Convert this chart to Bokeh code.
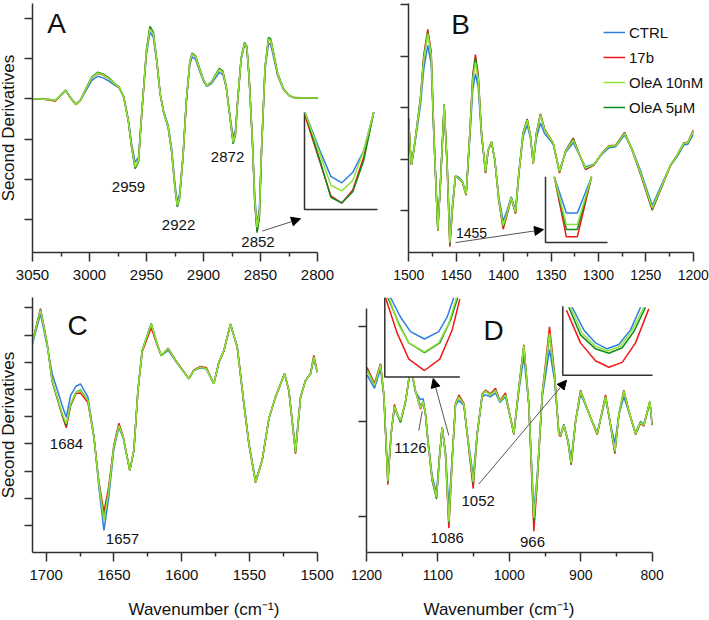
from bokeh.plotting import figure
from bokeh.models import (Range1d, FixedTicker, Label, Arrow, NormalHead, Legend, LegendItem,
                          Title, LinearAxis)
from bokeh.layouts import column, row
from bokeh.embed import file_html
from bokeh.resources import INLINE

# ---------------- series ----------------
SERIES = ["CTRL", "17b", "OleA 10nM", "OleA 5μM"]
SERIES_COLORS = ["#2f7fe0", "#f01818", "#93e23a", "#108a1c"]
DRAW_ORDER = [0, 1, 3, 2]

# ---------------- panel A (3050-2800 cm-1) ----------------
wnA = [3050, 3040, 3035, 3030, 3025, 3021, 3017, 3012, 3008, 3003,
       2998, 2993, 2988, 2983, 2978, 2974, 2970, 2966, 2963, 2960,
       2957, 2954, 2950, 2947, 2944, 2941, 2938, 2935, 2931, 2928,
       2925, 2923, 2921, 2918, 2915, 2912, 2910, 2907, 2903, 2900,
       2897, 2893, 2889, 2886, 2883, 2880, 2877, 2874, 2872, 2870,
       2867, 2864, 2862, 2860, 2857, 2855, 2853, 2851, 2849, 2846,
       2843, 2841, 2838, 2835, 2830, 2825, 2820, 2810, 2800]
A_CTRL = [0, -0.01, -0.02, -0.04, 0.09, 0.20, 0.04, -0.13, -0.04, 0.21,
          0.46, 0.56, 0.52, 0.44, 0.34, 0.27, 0.06, -0.50, -1.12, -1.58,
          -1.45, -0.27, 1.12, 1.66, 1.53, 0.90, 0.12, -0.30, -0.66, -1.22,
          -2.12, -2.57, -2.37, -1.40, -0.03, 0.85, 1.04, 0.99, 0.66, 0.43,
          0.31, 0.38, 0.54, 0.66, 0.60, 0.27, -0.37, -0.95, -0.78, -0.03,
          0.98, 1.35, 1.26, 0.53, -1.06, -2.45, -3.10, -2.76, -1.15, 0.74,
          1.38, 1.35, 0.97, 0.58, 0.24, 0.08, 0.02, 0.02, 0.02]
A_17B = [0, -0.01, -0.03, -0.06, 0.10, 0.21, 0.04, -0.15, -0.04, 0.25,
         0.52, 0.63, 0.59, 0.50, 0.37, 0.29, 0.04, -0.54, -1.21, -1.72,
         -1.54, -0.29, 1.20, 1.75, 1.62, 0.95, 0.12, -0.33, -0.71, -1.30,
         -2.22, -2.66, -2.46, -1.45, -0.04, 0.91, 1.12, 1.05, 0.70, 0.46,
         0.33, 0.41, 0.60, 0.73, 0.66, 0.29, -0.41, -1.09, -0.88, -0.04,
         1.00, 1.38, 1.29, 0.54, -1.14, -2.58, -3.30, -2.93, -1.23, 0.79,
         1.49, 1.45, 1.04, 0.62, 0.25, 0.08, 0.03, 0.02, 0.02]
A_OLEA10 = [0, -0.01, -0.02, -0.04, 0.10, 0.21, 0.04, -0.14, -0.04, 0.25,
            0.52, 0.64, 0.60, 0.50, 0.37, 0.29, 0.04, -0.54, -1.20, -1.70,
            -1.53, -0.29, 1.20, 1.74, 1.62, 0.95, 0.12, -0.33, -0.70, -1.29,
            -2.20, -2.65, -2.45, -1.45, -0.04, 0.91, 1.12, 1.05, 0.70, 0.46,
            0.33, 0.41, 0.60, 0.73, 0.66, 0.29, -0.41, -1.08, -0.87, -0.04,
            1.00, 1.38, 1.29, 0.54, -1.12, -2.53, -3.20, -2.86, -1.20, 0.79,
            1.49, 1.45, 1.04, 0.62, 0.25, 0.08, 0.02, 0.02, 0.02]
A_OLEA5 = [0, -0.01, -0.02, -0.04, 0.10, 0.22, 0.04, -0.14, -0.04, 0.26,
           0.54, 0.66, 0.62, 0.52, 0.38, 0.29, 0.04, -0.55, -1.22, -1.74,
           -1.57, -0.30, 1.24, 1.80, 1.66, 0.97, 0.12, -0.34, -0.72, -1.31,
           -2.23, -2.69, -2.48, -1.47, -0.04, 0.93, 1.14, 1.07, 0.72, 0.47,
           0.33, 0.42, 0.62, 0.76, 0.69, 0.30, -0.42, -1.12, -0.90, -0.05,
           1.02, 1.40, 1.31, 0.55, -1.15, -2.60, -3.33, -2.95, -1.24, 0.80,
           1.53, 1.49, 1.07, 0.64, 0.26, 0.08, 0.02, 0.02, 0.02]
# inset A (zoom of 2852 band)
insA_wn = [2858.7, 2856, 2854, 2852, 2850, 2848, 2846.2]
insA_CTRL = [-2.20, -2.67, -2.99, -3.07, -2.94, -2.67, -2.20]
insA_17B = [-2.24, -2.81, -3.23, -3.32, -3.16, -2.75, -2.20]
insA_OLEA10 = [-2.20, -2.71, -3.10, -3.17, -3.04, -2.67, -2.20]
insA_OLEA5 = [-2.20, -2.79, -3.25, -3.32, -3.18, -2.79, -2.20]

# ---------------- panel B (1500-1200 cm-1) ----------------
wnB = [1500, 1498.9, 1497.2, 1494.7, 1491.2, 1487.7, 1484.2, 1480.0, 1476.4, 1473.6,
       1469.4, 1466.6, 1462.7, 1459.5, 1456.7, 1453.9, 1450.8, 1447.2, 1443.7, 1439.5,
       1435.6, 1432.5, 1429.7, 1426.8, 1423.3, 1419.1, 1416.3, 1412.8, 1409.3, 1405.0,
       1400.5, 1396.2, 1392.0, 1387.4, 1383.9, 1379.4, 1375.1, 1371.6, 1368.8, 1365.3,
       1361.1, 1356.8, 1352.3, 1347.7, 1341.0, 1334.7, 1326.6, 1320.6, 1313.6, 1304.8,
       1296.0, 1289.0, 1281.9, 1272.4, 1264.3, 1255.5, 1243.2, 1232.7, 1223.9, 1216.9,
       1209.8, 1205.6, 1200.0]
B_CTRL = [0.74, 0.30, -0.11, 0.16, 0.60, 1.05, 1.75, 2.21, 1.85, 0.45,
          -1.33, -0.44, 1.02, -0.12, -1.50, -0.86, -0.32, -0.35, -0.42, -0.66,
          0.42, 1.35, 1.66, 1.40, 0.45, -0.22, 0.17, 0.33, -0.01, -0.74,
          -1.20, -0.99, -0.73, -0.99, -0.26, 0.44, 0.66, 0.40, -0.07, 0.42,
          0.70, 0.50, 0.40, 0.29, -0.22, 0.13, 0.32, 0.10, -0.15, -0.10,
          0.10, 0.22, 0.24, 0.47, 0.19, -0.23, -0.90, -0.47, -0.12, 0.05,
          0.28, 0.29, 0.48]
B_17B = [0.79, 0.32, -0.11, 0.18, 0.68, 1.19, 2.02, 2.52, 2.08, 0.52,
         -1.39, -0.47, 1.06, -0.15, -1.70, -0.96, -0.33, -0.38, -0.44, -0.70,
         0.52, 1.64, 2.03, 1.64, 0.52, -0.27, 0.17, 0.34, -0.02, -0.82,
         -1.36, -1.08, -0.76, -1.06, -0.28, 0.52, 0.78, 0.45, -0.09, 0.52,
         0.88, 0.59, 0.45, 0.31, -0.27, 0.16, 0.41, 0.12, -0.20, -0.12,
         0.12, 0.26, 0.27, 0.52, 0.17, -0.30, -0.99, -0.52, -0.12, 0.08,
         0.32, 0.33, 0.56]
B_OLEA10 = [0.77, 0.31, -0.11, 0.18, 0.66, 1.15, 1.95, 2.44, 2.02, 0.50,
            -1.37, -0.46, 1.05, -0.14, -1.62, -0.92, -0.32, -0.37, -0.43, -0.68,
            0.50, 1.55, 1.88, 1.56, 0.50, -0.24, 0.18, 0.34, -0.01, -0.79,
            -1.29, -1.05, -0.75, -1.03, -0.27, 0.50, 0.76, 0.44, -0.08, 0.50,
            0.86, 0.57, 0.44, 0.31, -0.24, 0.15, 0.37, 0.12, -0.17, -0.11,
            0.12, 0.25, 0.26, 0.50, 0.18, -0.27, -0.95, -0.50, -0.11, 0.08,
            0.31, 0.32, 0.54]
B_OLEA5 = [0.77, 0.31, -0.11, 0.18, 0.67, 1.17, 1.98, 2.47, 2.05, 0.51,
           -1.38, -0.46, 1.06, -0.14, -1.66, -0.94, -0.33, -0.37, -0.43, -0.69,
           0.51, 1.60, 1.97, 1.60, 0.51, -0.25, 0.18, 0.34, -0.01, -0.80,
           -1.31, -1.06, -0.75, -1.04, -0.27, 0.51, 0.77, 0.44, -0.08, 0.51,
           0.87, 0.58, 0.44, 0.31, -0.25, 0.15, 0.39, 0.12, -0.18, -0.11,
           0.12, 0.25, 0.26, 0.51, 0.18, -0.28, -0.97, -0.51, -0.11, 0.08,
           0.31, 0.32, 0.54]
# inset B (zoom of 1455 band)
insB_wn = [1458.2, 1456.0, 1454.0, 1451.4]
insB_CTRL = [-1.00, -1.44, -1.44, -1.00]
insB_17B = [-1.00, -1.73, -1.73, -1.00]
insB_OLEA10 = [-1.00, -1.58, -1.58, -1.00]
insB_OLEA5 = [-1.00, -1.64, -1.64, -1.00]

# ---------------- panel C (1710-1500 cm-1) ----------------
wnC = [1710.1, 1704.2, 1699.3, 1695.6, 1691.9, 1688.2, 1685.2, 1682.0, 1678.0, 1674.7,
       1669.2, 1664.8, 1661.1, 1657.4, 1653.8, 1650.1, 1646.4, 1643.2, 1638.3, 1635.3,
       1632.3, 1629.2, 1622.5, 1618.1, 1615.1, 1610.0, 1604.6, 1594.7, 1591.0, 1586.1,
       1581.7, 1576.3, 1572.6, 1568.9, 1564.0, 1559.0, 1554.1, 1550.4, 1545.5, 1540.6,
       1535.7, 1530.8, 1524.1, 1520.9, 1516.0, 1512.3, 1508.6, 1504.9, 1502.5, 1500.0]
C_CTRL = [1.68, 2.78, 1.60, 0.58, 0.00, -0.59, -1.02, -0.22, 0.12, 0.21,
          -0.28, -1.70, -3.60, -5.18, -3.95, -2.20, -1.38, -1.78, -2.98, -2.24,
          -0.02, 1.43, 2.41, 1.66, 1.24, 1.44, 1.05, 0.39, 0.70, 0.80,
          0.75, 0.21, 0.98, 1.42, 2.40, 1.58, -0.48, -1.95, -3.35, -2.60,
          -1.08, -0.28, 0.58, -0.03, -2.18, -0.26, 0.33, 0.57, 1.13, 0.62]
C_17B = [1.76, 2.97, 1.70, 0.30, -0.33, -0.96, -1.41, -0.60, -0.15, -0.13,
         -0.48, -1.75, -3.40, -4.51, -3.55, -2.05, -1.24, -1.72, -2.98, -2.24,
         -0.06, 1.38, 2.27, 1.64, 1.25, 1.52, 1.09, 0.40, 0.72, 0.85,
         0.80, 0.21, 1.00, 1.42, 2.40, 1.54, -0.55, -2.02, -3.42, -2.60,
         -1.08, -0.28, 0.58, -0.05, -2.36, -0.30, 0.33, 0.60, 1.25, 0.70]
C_OLEA10 = [1.74, 2.92, 1.68, 0.33, -0.28, -0.89, -1.26, -0.53, -0.10, -0.04,
            -0.40, -1.75, -3.47, -4.82, -3.71, -2.12, -1.32, -1.75, -2.98, -2.24,
            -0.04, 1.43, 2.41, 1.68, 1.25, 1.50, 1.07, 0.39, 0.70, 0.82,
            0.76, 0.21, 1.00, 1.43, 2.41, 1.56, -0.53, -2.00, -3.41, -2.61,
            -1.08, -0.28, 0.58, -0.04, -2.30, -0.28, 0.33, 0.58, 1.19, 0.64]
C_OLEA5 = [1.74, 2.94, 1.68, 0.31, -0.30, -0.92, -1.32, -0.56, -0.10, -0.02,
           -0.40, -1.75, -3.45, -4.73, -3.68, -2.12, -1.32, -1.75, -2.98, -2.24,
           -0.04, 1.43, 2.43, 1.68, 1.25, 1.50, 1.07, 0.39, 0.70, 0.82,
           0.76, 0.21, 1.00, 1.43, 2.41, 1.56, -0.53, -2.00, -3.42, -2.61,
           -1.08, -0.28, 0.58, -0.04, -2.32, -0.28, 0.33, 0.58, 1.20, 0.64]

# ---------------- panel D (1200-800 cm-1) ----------------
wnD = [1199.1, 1188.8, 1180.4, 1175.7, 1170.1, 1165.5, 1160.8, 1157.0, 1152.4, 1145.4,
       1140.7, 1137.5, 1131.4, 1124.4, 1120.7, 1117.4, 1114.1, 1108.0, 1102.0, 1098.0,
       1094.1, 1089.4, 1084.7, 1080.0, 1075.4, 1070.7, 1063.7, 1059.0, 1050.6, 1045.0,
       1038.0, 1033.4, 1026.4, 1019.4, 1013.3, 1005.4, 993.7, 986.7, 979.7, 972.7,
       965.7, 961.0, 954.0, 943.8, 936.8, 930.7, 928.4, 923.7, 918.1, 913.4,
       907.3, 900.3, 893.3, 886.3, 876.9, 865.3, 859.2, 852.3, 846.6, 839.7,
       832.7, 823.3, 816.3, 811.7, 803.3, 800.0]
D_CTRL = [0.49, 0.35, 0.56, 0.26, -0.59, -0.12, 0.14, 0.075, 0.00, 0.20,
          0.44, 0.54, 0.31, 0.23, 0.24, 0.08, -0.18, -0.58, -0.76, -0.38,
          -0.06, -0.32, -0.92, -0.37, 0.17, 0.22, 0.17, -0.12, -0.58, -0.12,
          0.26, 0.28, 0.26, 0.30, 0.20, 0.26, -0.12, 0.32, 0.69, 0.17,
          -0.95, -0.57, 0.25, 0.76, 0.44, -0.12, -0.14, -0.03, -0.19, -0.40,
          0.00, 0.29, 0.17, 0.04, -0.12, 0.24, 0.00, -0.23, 0.07, 0.26,
          0.10, -0.12, 0.00, -0.03, 0.20, -0.04]
D_17B = [0.57, 0.40, 0.61, 0.28, -0.67, -0.13, 0.18, 0.075, 0.00, 0.21,
         0.45, 0.56, 0.32, 0.13, 0.20, 0.075, -0.21, -0.63, -0.80, -0.40,
         -0.06, -0.35, -1.13, -0.41, 0.19, 0.28, 0.19, -0.14, -0.71, -0.14,
         0.29, 0.33, 0.29, 0.35, 0.22, 0.30, -0.14, 0.36, 0.81, 0.17,
         -1.16, -0.65, 0.29, 1.00, 0.52, -0.14, -0.16, -0.04, -0.21, -0.46,
         0.00, 0.33, 0.18, 0.04, -0.14, 0.28, 0.00, -0.34, 0.08, 0.33,
         0.11, -0.14, -0.02, -0.05, 0.21, -0.04]
D_OLEA10 = [0.54, 0.38, 0.60, 0.28, -0.63, -0.13, 0.16, 0.075, 0.01, 0.21,
            0.45, 0.56, 0.32, 0.14, 0.21, 0.075, -0.20, -0.61, -0.80, -0.40,
            -0.06, -0.34, -1.06, -0.40, 0.18, 0.26, 0.18, -0.13, -0.64, -0.13,
            0.28, 0.32, 0.28, 0.33, 0.21, 0.28, -0.13, 0.35, 0.80, 0.18,
            -1.02, -0.61, 0.28, 0.93, 0.49, -0.13, -0.15, -0.04, -0.20, -0.44,
            0.00, 0.32, 0.18, 0.04, -0.13, 0.26, 0.00, -0.32, 0.075, 0.32,
            0.11, -0.13, -0.01, -0.04, 0.21, -0.04]
D_OLEA5 = [0.55, 0.38, 0.60, 0.28, -0.64, -0.13, 0.16, 0.075, -0.01, 0.21,
           0.45, 0.56, 0.32, 0.16, 0.21, 0.075, -0.20, -0.62, -0.82, -0.40,
           -0.06, -0.34, -1.07, -0.40, 0.18, 0.26, 0.18, -0.13, -0.66, -0.13,
           0.28, 0.32, 0.28, 0.33, 0.21, 0.28, -0.13, 0.35, 0.80, 0.18,
           -1.06, -0.62, 0.28, 0.92, 0.49, -0.13, -0.15, -0.04, -0.20, -0.45,
           0.00, 0.32, 0.18, 0.04, -0.13, 0.26, 0.00, -0.33, 0.075, 0.32,
           0.11, -0.13, -0.01, -0.04, 0.21, -0.04]
# inset D1 (zoom of 1086 band)
insD1_CTRL_wn = [1091.09, 1089.49, 1087.89, 1085.65, 1083.36, 1082.02, 1080.96]
insD1_CTRL = [-0.600, -0.747, -0.857, -0.913, -0.857, -0.747, -0.600]
insD1_17B_wn = [1091.89, 1090.02, 1088.16, 1085.65, 1083.20, 1081.22, 1080.00]
insD1_17B = [-0.600, -0.869, -1.065, -1.151, -1.065, -0.845, -0.612]
insD1_OLEA10_wn = [1091.36, 1089.76, 1088.16, 1085.65, 1083.36, 1081.76, 1080.53]
insD1_OLEA10 = [-0.600, -0.808, -0.943, -1.011, -0.943, -0.796, -0.600]
insD1_OLEA5_wn = [1091.52, 1089.76, 1088.16, 1085.65, 1083.20, 1081.49, 1080.32]
insD1_OLEA5 = [-0.600, -0.796, -0.943, -1.016, -0.943, -0.771, -0.600]
# inset D2 (zoom of 1052 band)
insD2_CTRL_wn = [1056.76, 1055.23, 1053.69, 1052.15, 1050.61, 1049.07, 1047.75]
insD2_CTRL = [-0.307, -0.471, -0.565, -0.608, -0.577, -0.471, -0.307]
insD2_17B_wn = [1057.51, 1055.67, 1053.69, 1051.93, 1050.17, 1048.41, 1046.66]
insD2_17B = [-0.330, -0.565, -0.694, -0.741, -0.706, -0.565, -0.319]
insD2_OLEA10_wn = [1056.98, 1055.45, 1053.69, 1052.06, 1050.39, 1048.85, 1047.31]
insD2_OLEA10 = [-0.307, -0.495, -0.589, -0.624, -0.589, -0.471, -0.307]
insD2_OLEA5_wn = [1057.20, 1055.67, 1053.69, 1051.93, 1050.17, 1048.63, 1047.09]
insD2_OLEA5 = [-0.307, -0.507, -0.608, -0.640, -0.600, -0.483, -0.307]

# ---------------- ticks ----------------
A_XTICKS = [2800, 2850, 2900, 2950, 3000, 3050]
A_XMINOR = [2825, 2875, 2925, 2975, 3025]
A_YTICKS = [-3, -2, -1, 0, 1, 2]
B_XTICKS = [1200, 1250, 1300, 1350, 1400, 1450, 1500]
B_XMINOR = [1225, 1275, 1325, 1375, 1425, 1475]
B_YTICKS = [-1, 0, 1, 2, 3]
C_XTICKS = [1500, 1550, 1600, 1650, 1700]
C_XMINOR = [1525, 1575, 1625, 1675]
C_YTICKS = [-5, -4, -3, -2, -1, 0, 1, 2, 3]
D_XTICKS = [800, 900, 1000, 1100, 1200]
D_XMINOR = [850, 950, 1050, 1150]
D_YTICKS = [-1, 0, 1]

# ---------------- styling / layout helpers ----------------
FONT = "Liberation Sans"
AXIS = "#303030"
TEXT = "#111111"
ANNOT = "#555555"
LINE_W = 1.5


def lin(p0, p1, v0, v1, q):
    return v0 + (q - p0) * (v1 - v0) / (p1 - p0)


def rng_x(frame, anchors):
    (p0, v0), (p1, v1) = anchors
    return Range1d(lin(p0, p1, v0, v1, frame[0]), lin(p0, p1, v0, v1, frame[1]))


def rng_y(frame, anchors):
    (p0, v0), (p1, v1) = anchors
    return Range1d(lin(p0, p1, v0, v1, frame[1]), lin(p0, p1, v0, v1, frame[0]))


def make_panel(fig_box, frame_box, xanch, yanch, xticks, xminor, yticks, tick_px,
               ylabel=False, xbounds=None, ybounds=None, shift_left=0):
    # fig_box is the visible slot on the page; shift_left lets the figure start
    # left of its slot (negative CSS margin) so the y label can sit near the edge
    fx0, fy0, fx1, fy1 = fig_box
    fx0 -= shift_left
    x0, y0, x1, y1 = frame_box
    p = figure(width=fx1 - fx0, height=fy1 - fy0,
               x_range=rng_x((x0, x1), xanch), y_range=rng_y((y0, y1), yanch),
               output_backend="svg", toolbar_location=None,
               min_border_left=x0 - fx0, min_border_right=fx1 - x1,
               min_border_top=y0 - fy0, min_border_bottom=fy1 - y1,
               margin=(0, 0, 0, -shift_left))
    p.outline_line_color = None
    p.xgrid.visible = False
    p.ygrid.visible = False
    p.background_fill_color = "white"
    p.border_fill_color = "white"
    xa = p.xaxis[0]
    ya = p.yaxis[0]
    xa.ticker = FixedTicker(ticks=xticks, minor_ticks=xminor)
    ya.ticker = FixedTicker(ticks=yticks, minor_ticks=[])
    for ax in (xa, ya):
        ax.axis_line_color = AXIS
        ax.axis_line_width = 1.5
        ax.major_tick_line_color = AXIS
        ax.major_tick_line_width = 1.5
        ax.minor_tick_line_color = AXIS
        ax.minor_tick_line_width = 1.5
        ax.major_tick_in = 0
        ax.minor_tick_in = 0
    xa.major_tick_out = 9
    xa.minor_tick_out = 4
    xa.major_label_text_font = FONT
    xa.major_label_text_font_size = f"{tick_px}px"
    xa.major_label_text_color = TEXT
    xa.major_label_text_line_height = 1.0
    xa.major_label_standoff = 8
    ya.major_tick_out = 8
    ya.major_label_overrides = {t: "" for t in yticks}
    ya.major_label_standoff = 0
    if ylabel:
        ya.axis_label = "Second Derivatives"
        ya.axis_label_text_font = FONT
        ya.axis_label_text_font_size = "17px"
        ya.axis_label_text_font_style = "normal"
        ya.axis_label_text_color = TEXT
        ya.axis_label_text_line_height = 1.0
        ya.axis_label_standoff = 7
    if xbounds:
        xa.bounds = xbounds
    if ybounds:
        ya.bounds = ybounds
    return p


def draw(p, xs, ys, **kw):
    rs = [None] * 4
    for i in DRAW_ORDER:
        x = xs[i] if isinstance(xs[0], list) else xs
        rs[i] = p.line(x, ys[i], line_color=SERIES_COLORS[i], line_width=LINE_W, **kw)
    return rs


def label(p, x, y, text, size=15, **kw):
    p.add_layout(Label(x=x, y=y, text=text, text_font=FONT, text_font_size=f"{size}px",
                       text_color=TEXT, text_align="center", text_baseline="middle", **kw))


def x_title(p, text, left_offset, anchor_tick, gap=15):
    # an invisible axis (one hidden, unlabeled tick) reserves the gap between
    # the tick labels and the title
    spacer = LinearAxis(ticker=FixedTicker(ticks=[anchor_tick], minor_ticks=[]),
                        axis_line_color=None, major_tick_line_color=None,
                        minor_tick_line_color=None, major_tick_in=0, major_tick_out=gap,
                        minor_tick_in=0, minor_tick_out=0, major_label_standoff=0,
                        major_label_overrides={anchor_tick: ""})
    p.add_layout(spacer, "below")
    p.add_layout(Title(text=text, align="left", offset=left_offset, text_font=FONT,
                       text_font_size="17px", text_font_style="normal", text_color=TEXT,
                       text_line_height=1.0, standoff=0), "below")


def arrow(p, xs, ys, xe, ye, head=True):
    end = NormalHead(size=9, fill_color="black", line_color="black") if head else None
    p.add_layout(Arrow(end=end, x_start=xs, y_start=ys, x_end=xe, y_end=ye,
                       line_color=ANNOT, line_width=1))


def add_inset(p, name, frame_box, box_px, box_data, white=False):
    x0, y0, x1, y1 = frame_box
    bx0, bx1, by0, by1 = box_px
    dx0, dx1, dy0, dy1 = box_data
    p.extra_x_ranges[name] = rng_x((x0, x1), ((bx0, dx0), (bx1, dx1)))
    p.extra_y_ranges[name] = rng_y((y0, y1), ((by0, dy0), (by1, dy1)))
    if white:
        p.quad(left=dx0, right=dx1, top=dy0, bottom=dy1, fill_color="white", line_color=None,
               x_range_name=name, y_range_name=name)


def inset_frame(p, name, box_data):
    dx0, dx1, dy0, dy1 = box_data
    p.line([dx0, dx0, dx1], [dy0, dy1, dy1], line_color=AXIS, line_width=1.5,
           x_range_name=name, y_range_name=name)


# ---------------- panel A ----------------
FA = (32, 3, 380, 252)
pA = make_panel((0, 0, 380, 290), FA, ((32, 3050), (317, 2800)), ((98.3, 0), (218.9, -3)),
                A_XTICKS, A_XMINOR, A_YTICKS, 15, ylabel=True, xbounds=(2800, 3050), shift_left=8)
draw(pA, wnA, [A_CTRL, A_17B, A_OLEA10, A_OLEA5])
INS_A = (2858.8, 2845.5, -2.2, -3.4)
add_inset(pA, "ins", FA, (304, 377, 112, 209), INS_A)
inset_frame(pA, "ins", INS_A)
draw(pA, insA_wn, [insA_CTRL, insA_17B, insA_OLEA10, insA_OLEA5], x_range_name="ins", y_range_name="ins")
label(pA, 3028.9, 1.87, "A", size=28)
label(pA, 2965.8, -2.19, "2959")
label(pA, 2921.9, -3.15, "2922")
label(pA, 2878.9, -1.46, "2872")
label(pA, 2852.2, -3.55, "2852")
arrow(pA, 2848.5, -3.29, 2814.9, -2.985)

# ---------------- panel B ----------------
FB = (408, 3, 709, 253)
pB = make_panel((380, 0, 709, 290), FB, ((408.3, 1500), (692.7, 1200)), ((159.3, 0), (211.0, -1)),
                B_XTICKS, B_XMINOR, B_YTICKS, 14, xbounds=(1200, 1500))
rB = draw(pB, wnB, [B_CTRL, B_17B, B_OLEA10, B_OLEA5])
INS_B = (1459.8, 1448.5, -1.0, -1.8)
add_inset(pB, "ins", FB, (545, 607, 177, 243), INS_B)
inset_frame(pB, "ins", INS_B)
draw(pB, insB_wn, [insB_CTRL, insB_17B, insB_OLEA10, insB_OLEA5], x_range_name="ins", y_range_name="ins")
label(pB, 1445.5, 2.62, "B", size=28)
label(pB, 1433.9, -1.43, "1455", size=14)
arrow(pB, 1450.7, -1.62, 1357.9, -1.368)
legend = Legend(items=[LegendItem(label=SERIES[i], renderers=[rB[i]]) for i in range(4)],
                location=(195, 135), background_fill_alpha=0, border_line_alpha=0,
                label_text_font=FONT, label_text_font_size="15px", label_text_color=TEXT,
                glyph_width=22, glyph_height=20, label_height=20, spacing=5,
                padding=0, margin=0, label_standoff=4)
pB.add_layout(legend)

# ---------------- panel C ----------------
FC = (32, 297, 317, 552)
pC = make_panel((0, 290, 350, 620), FC, ((45.7, 1700), (316.7, 1500)), ((389.0, 0), (361.8, 1)),
                C_XTICKS, C_XMINOR, C_YTICKS, 15, ylabel=True, shift_left=8)
draw(pC, wnC, [C_CTRL, C_17B, C_OLEA10, C_OLEA5])
label(pC, 1676.9, 2.35, "C", size=28)
label(pC, 1685.0, -2.02, "1684")
label(pC, 1643.7, -5.48, "1657")
x_title(pC, "Wavenumber (cm⁻¹)", 96, 1600)

# ---------------- panel D ----------------
FD = (366, 290, 652, 552)
pD = make_panel((350, 290, 709, 620), FD, ((366, 1200), (651.7, 800)), ((417.3, 0), (320.1, 1)),
                D_XTICKS, D_XMINOR, D_YTICKS, 14, ybounds=(-1.5, 1.19))
draw(pD, wnD, [D_CTRL, D_17B, D_OLEA10, D_OLEA5])
INS_D1 = (1092, 1080, -0.6, -1.2)
INS_D2 = (1058, 1046, -0.3, -0.8)
add_inset(pD, "ins1", FD, (384.3, 459.3, 290, 371.7), INS_D1, white=True)
add_inset(pD, "ins2", FD, (562.3, 653.3, 299, 370), INS_D2, white=True)
inset_frame(pD, "ins1", INS_D1)
inset_frame(pD, "ins2", INS_D2)
draw(pD, [insD1_CTRL_wn, insD1_17B_wn, insD1_OLEA10_wn, insD1_OLEA5_wn],
     [insD1_CTRL, insD1_17B, insD1_OLEA10, insD1_OLEA5], x_range_name="ins1", y_range_name="ins1")
draw(pD, [insD2_CTRL_wn, insD2_17B_wn, insD2_OLEA10_wn, insD2_OLEA5_wn],
     [insD2_CTRL, insD2_17B, insD2_OLEA10, insD2_OLEA5], x_range_name="ins2", y_range_name="ins2")
label(pD, 1022.2, 0.96, "D", size=28)
label(pD, 1138.4, -0.285, "1126")
label(pD, 1087.0, -1.23, "1086")
label(pD, 1043.6, -0.84, "1052")
label(pD, 967.6, -1.27, "966")
x_title(pD, "Wavenumber (cm⁻¹)", 57, 1000)
arrow(pD, 1084.8, -0.148, 1106.6, 0.453)
arrow(pD, 1042.8, -0.663, 920.0, 0.435)
arrow(pD, 1126.8, -0.097, 1122.0, 0.109, head=False)

layout = column(row(pA, pB), row(pC, pD))
open("out.html", "w").write(file_html(layout, INLINE))
